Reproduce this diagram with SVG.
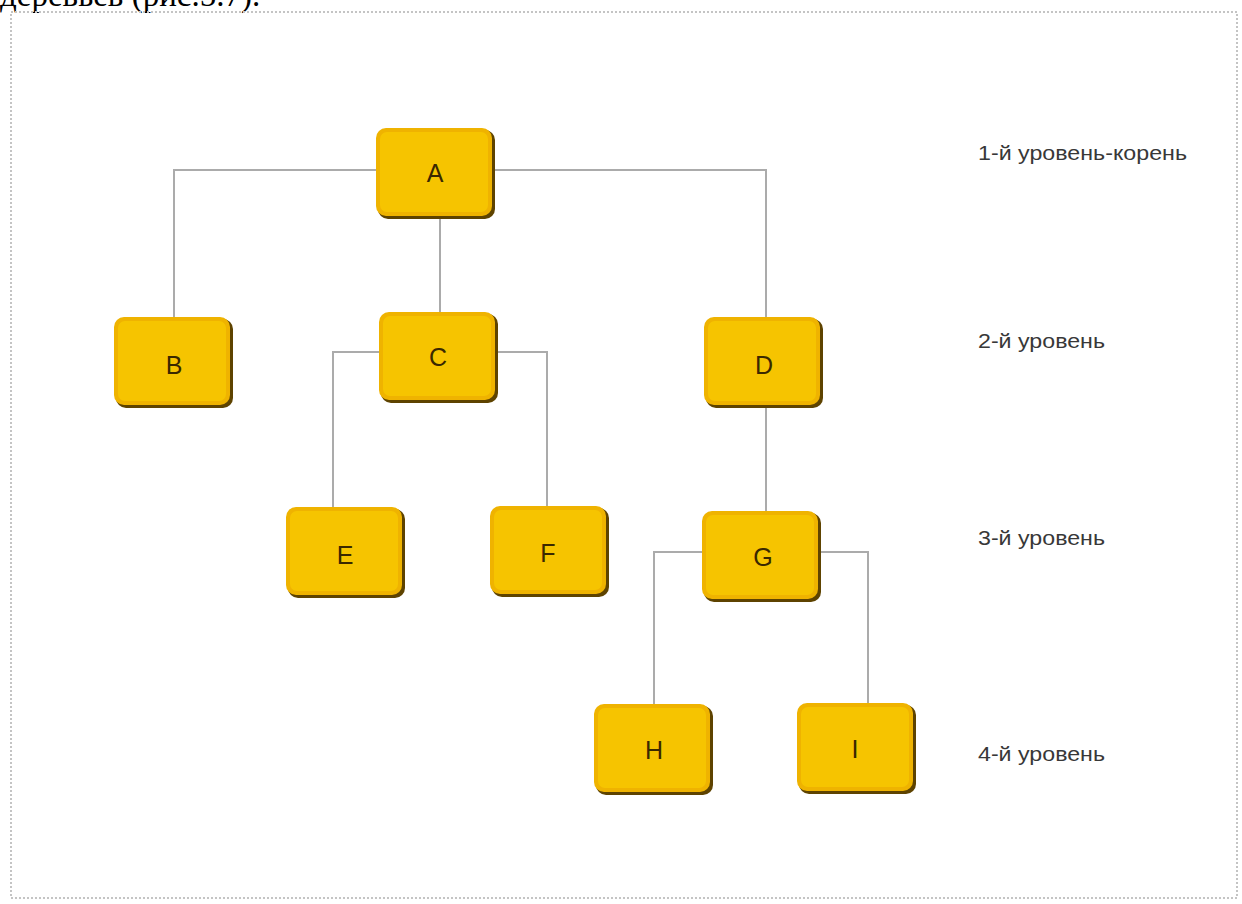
<svg xmlns="http://www.w3.org/2000/svg" width="1242" height="904" viewBox="0 0 1242 904">
<style>
.frame{fill:none;stroke:#c4c4c4;stroke-width:2;stroke-dasharray:2,2}
.conn{fill:none;stroke:#ababab;stroke-width:2}
.shadow{fill:#5e4300}
.outer{fill:#efb300}
.inner{fill:#f6c400}
.letter{font-family:"Liberation Sans",Arial,sans-serif;font-size:25px;fill:#3a2800;text-anchor:middle}
.lvl{font-family:"Liberation Sans",Arial,sans-serif;font-size:20px;fill:#383838}
.top{font-family:"Liberation Serif","Times New Roman",serif;font-size:33px;fill:#000}
</style>
<defs>
<g id="node">
<rect class="shadow" x="2" y="2" width="117" height="89" rx="10"/>
<rect class="outer" x="0" y="0" width="116" height="88" rx="10"/>
<rect class="inner" x="4" y="4" width="108" height="80" rx="7"/>
</g>
</defs>
<rect width="1242" height="904" fill="#fff"/>
<text class="top" x="0" y="6">деревьев (рис.5.7).</text>
<rect class="frame" x="11" y="12" width="1226" height="886"/>
<g id="connectors">
<polyline class="conn" points="376,170 174,170 174,317"/>
<polyline class="conn" points="493,170 766,170 766,317"/>
<line class="conn" x1="440" y1="217" x2="440" y2="312"/>
<polyline class="conn" points="379,352 333,352 333,507"/>
<polyline class="conn" points="496,352 547,352 547,506"/>
<line class="conn" x1="766" y1="407" x2="766" y2="511"/>
<polyline class="conn" points="702,552 654,552 654,704"/>
<polyline class="conn" points="820,552 868,552 868,703"/>
</g>
<g id="node-A"><use href="#node" x="376" y="128"/><text class="letter" x="435" y="182">A</text></g>
<g id="node-B"><use href="#node" x="114" y="317"/><text class="letter" x="174" y="374">B</text></g>
<g id="node-C"><use href="#node" x="379" y="312"/><text class="letter" x="438" y="366">C</text></g>
<g id="node-D"><use href="#node" x="704" y="317"/><text class="letter" x="764" y="374">D</text></g>
<g id="node-E"><use href="#node" x="286" y="507"/><text class="letter" x="345" y="564">E</text></g>
<g id="node-F"><use href="#node" x="490" y="506"/><text class="letter" x="548" y="562">F</text></g>
<g id="node-G"><use href="#node" x="702" y="511"/><text class="letter" x="763" y="566">G</text></g>
<g id="node-H"><use href="#node" x="594" y="704"/><text class="letter" x="654" y="759">H</text></g>
<g id="node-I"><use href="#node" x="797" y="703"/><text class="letter" x="855" y="758">I</text></g>
<g id="levels">
<text class="lvl" x="978" y="160" textLength="209" lengthAdjust="spacingAndGlyphs">1-й уровень-корень</text>
<text class="lvl" x="978" y="348" textLength="127" lengthAdjust="spacingAndGlyphs">2-й уровень</text>
<text class="lvl" x="978" y="545" textLength="127" lengthAdjust="spacingAndGlyphs">3-й уровень</text>
<text class="lvl" x="978" y="761" textLength="127" lengthAdjust="spacingAndGlyphs">4-й уровень</text>
</g>
</svg>
